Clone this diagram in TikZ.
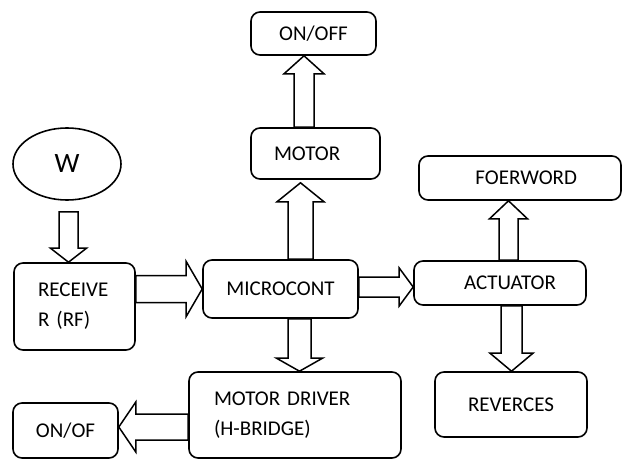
\documentclass[tikz,border=0pt]{standalone}
\usepackage{fontspec}
\setmainfont{Carlito}
\usetikzlibrary{calc,shapes.geometric}
\tikzset{
  box/.style={draw, line width=1.6pt, rounded corners=9pt, inner ysep=0pt,
    font=\fontsize{21}{30}\selectfont},
  oval/.style={draw, ellipse, line width=1.6pt, inner sep=0pt,
    font=\fontsize{28}{30}\selectfont},
  barrow/.style={draw, fill=white, line width=1.5pt, line join=miter}
}
% #1 start, #2 end, #3 shaft half width, #4 head half width, #5 head length
\newcommand{\blockarr}[5]{%
  \coordinate (hb) at ($(#2)!#5!(#1)$);
  \draw[barrow] ($(#1)!#3!90:(#2)$) -- ($(hb)!#3!90:(#2)$) -- ($(hb)!#4!90:(#2)$)
    -- (#2) -- ($(hb)!#4!-90:(#2)$) -- ($(hb)!#3!-90:(#2)$) -- ($(#1)!#3!-90:(#2)$) -- cycle;
}
\begin{document}
\begin{tikzpicture}[x=1pt,y=-1pt]
\useasboundingbox (0,0) rectangle (622,460);
% nodes
\node[oval, minimum width=108pt, minimum height=72pt] (W) at (67,164) {W};
\node[box, minimum height=87pt, text width=73pt, inner xsep=24pt, align=left] (RECV) at (74.5,306.5) {\mbox{RECEIVE}\\\mbox{R (RF)}};
\node[box, minimum width=155pt, minimum height=58pt] (MICRO) at (280.5,289) {MICROCONT};
\node[box, minimum height=51pt, text width=83pt, inner xsep=23pt, align=left] (MOTOR) at (315.5,153.5) {MOTOR};
\node[box, minimum width=125pt, minimum height=43pt] (ONOFF) at (313.5,33.5) {ON/OFF};
\node[box, minimum height=86pt, text width=162pt, inner xsep=25pt, align=left] (DRIVER) at (295,415) {\mbox{MOTOR DRIVER}\\\mbox{(H-BRIDGE)}};
\node[box, minimum width=105pt, minimum height=55pt] (ONOF) at (65.5,430.5) {ON/OF};
\node[box, minimum height=44pt, text width=112pt, inner xsep=30pt, align=right] (ACT) at (500,283) {ACTUATOR};
\node[box, minimum height=44pt, text width=114pt, inner xsep=44pt, align=right] (FOER) at (520,178) {FOERWORD};
\node[box, minimum width=152pt, minimum height=65pt] (REV) at (511,404.5) {REVERCES};
% connector end points
\coordinate (a1s) at ($(W.south)+(1.5,11)$);
\coordinate (a3s) at ($(MICRO.north)+(20,0)$);
\coordinate (a3e) at ($(a3s |- MOTOR.south)+(0,3)$);
\coordinate (a4s) at ($(MOTOR.north)+(-11.5,0)$);
\coordinate (a5s) at ($(MICRO.south)+(19,0)$);
\coordinate (a6s) at ($(MICRO.east)+(0,-2)$);
\coordinate (a7s) at ($(ACT.north)+(8.5,0)$);
\coordinate (a8s) at ($(ACT.south)+(11.5,0)$);
\coordinate (a9s) at ($(DRIVER.west)+(0,12)$);
% block arrows
\blockarr{a1s}{a1s |- RECV.north}{9.5pt}{18pt}{14pt}
\blockarr{RECV.east |- MICRO.west}{MICRO.west}{13.5pt}{27.5pt}{16pt}
\blockarr{a3s}{a3e}{12.5pt}{23.5pt}{19pt}
\blockarr{a4s}{a4s |- ONOFF.south}{10pt}{20pt}{18pt}
\blockarr{a5s}{a5s |- DRIVER.north}{11.5pt}{23pt}{13pt}
\blockarr{a6s}{a6s -| ACT.west}{10pt}{19pt}{14pt}
\blockarr{a7s}{a7s |- FOER.south}{9.5pt}{19pt}{18pt}
\blockarr{a8s}{a8s |- REV.north}{10.5pt}{21.5pt}{18pt}
\blockarr{a9s}{a9s -| ONOF.east}{13pt}{25pt}{17pt}
\end{tikzpicture}
\end{document}
